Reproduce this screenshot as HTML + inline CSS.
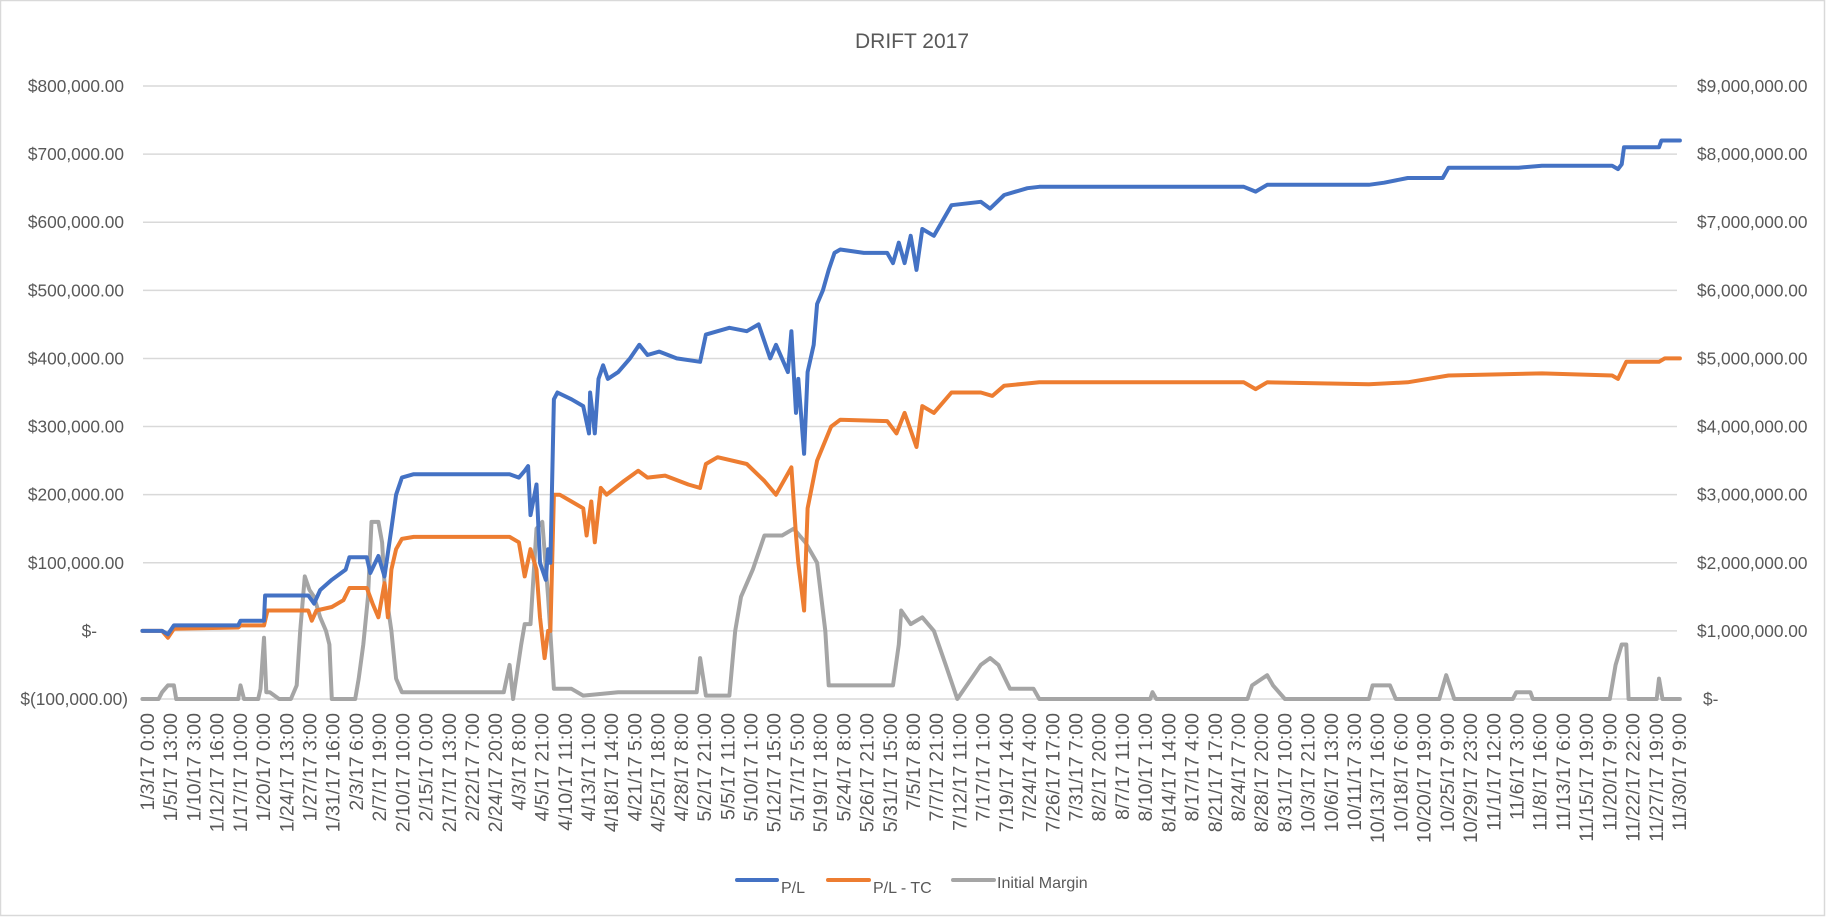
<!DOCTYPE html>
<html><head><meta charset="utf-8"><style>
html,body{margin:0;padding:0;background:#fff;}
svg{display:block;font-family:"Liberation Sans",sans-serif;}
</style></head><body>
<svg id="chart" width="1827" height="917" viewBox="0 0 1827 917" xmlns="http://www.w3.org/2000/svg">
<rect x="0.5" y="0.5" width="1824" height="915" fill="#fff" stroke="#d9d9d9" stroke-width="1.5"/>
<text x="912" y="48" text-anchor="middle" font-size="21" fill="#595959">DRIFT 2017</text>
<g id="grid"></g>
<g id="yleft"></g>
<g id="yright"></g>
<g id="xaxis"></g>
<g id="series"></g>
<g>
<g><line x1="737" y1="880" x2="777" y2="880" stroke="#4472C4" stroke-width="4" stroke-linecap="round"/><text x="781" y="893" font-size="16" fill="#595959">P/L</text></g>
<g><line x1="828" y1="880" x2="869" y2="880" stroke="#ED7D31" stroke-width="4" stroke-linecap="round"/><text x="873" y="893" font-size="16" fill="#595959">P/L - TC</text></g>
<g><line x1="953" y1="880" x2="994" y2="880" stroke="#A5A5A5" stroke-width="4" stroke-linecap="round"/><text x="997" y="888" font-size="16" fill="#595959">Initial Margin</text></g>
</g>
</svg>
<script>
const categories = ["1/3/17 0:00","1/5/17 13:00","1/10/17 3:00","1/12/17 16:00","1/17/17 10:00","1/20/17 0:00","1/24/17 13:00","1/27/17 3:00","1/31/17 16:00","2/3/17 6:00","2/7/17 19:00","2/10/17 10:00","2/15/17 0:00","2/17/17 13:00","2/22/17 7:00","2/24/17 20:00","4/3/17 8:00","4/5/17 21:00","4/10/17 11:00","4/13/17 1:00","4/18/17 14:00","4/21/17 5:00","4/25/17 18:00","4/28/17 8:00","5/2/17 21:00","5/5/17 11:00","5/10/17 1:00","5/12/17 15:00","5/17/17 5:00","5/19/17 18:00","5/24/17 8:00","5/26/17 21:00","5/31/17 15:00","7/5/17 8:00","7/7/17 21:00","7/12/17 11:00","7/17/17 1:00","7/19/17 14:00","7/24/17 4:00","7/26/17 17:00","7/31/17 7:00","8/2/17 20:00","8/7/17 11:00","8/10/17 1:00","8/14/17 14:00","8/17/17 4:00","8/21/17 17:00","8/24/17 7:00","8/28/17 20:00","8/31/17 10:00","10/3/17 21:00","10/6/17 13:00","10/11/17 3:00","10/13/17 16:00","10/18/17 6:00","10/20/17 19:00","10/25/17 9:00","10/29/17 23:00","11/1/17 12:00","11/6/17 3:00","11/8/17 16:00","11/13/17 6:00","11/15/17 19:00","11/20/17 9:00","11/22/17 22:00","11/27/17 19:00","11/30/17 9:00"];
const leftTicks = [-100000,0,100000,200000,300000,400000,500000,600000,700000,800000];
const leftTickLabels = ["$(100,000.00)","$-","$100,000.00","$200,000.00","$300,000.00","$400,000.00","$500,000.00","$600,000.00","$700,000.00","$800,000.00"];
const rightTicks = [0,1,2,3,4,5,6,7,8,9];
const rightTickLabels = ["$-","$1,000,000.00","$2,000,000.00","$3,000,000.00","$4,000,000.00","$5,000,000.00","$6,000,000.00","$7,000,000.00","$8,000,000.00","$9,000,000.00"];
// P/L: [category index position, value in $k]
const plSeries = [[-0.2,0],[0.65,0],[0.9,-5],[1.16,8],[3.93,8],[4.03,15],[5.04,15],[5.09,52],[6.95,52],[7.2,40],[7.46,60],[7.96,75],[8.56,90],[8.72,108],[9.47,108],[9.62,85],[9.97,110],[10.23,80],[10.53,150],[10.73,200],[10.98,225],[11.49,230],[15.62,230],[16.02,225],[16.27,235],[16.42,242],[16.52,170],[16.78,215],[16.93,100],[17.18,75],[17.28,120],[17.38,100],[17.53,340],[17.68,350],[18.29,340],[18.79,330],[19.04,290],[19.09,350],[19.29,290],[19.45,370],[19.65,390],[19.85,370],[20.3,380],[20.81,400],[21.21,420],[21.56,405],[22.07,410],[22.82,400],[23.83,395],[24.08,435],[24.58,440],[25.09,445],[25.84,440],[26.35,450],[26.85,400],[27.1,420],[27.61,380],[27.76,440],[27.96,320],[28.06,370],[28.31,260],[28.46,380],[28.72,420],[28.87,480],[29.12,500],[29.37,530],[29.62,555],[29.87,560],[30.88,555],[31.89,555],[32.14,540],[32.39,570],[32.64,540],[32.9,580],[33.15,530],[33.4,590],[33.9,580],[34.66,625],[35.92,630],[36.32,620],[36.93,640],[37.43,645],[37.93,650],[38.44,652],[47.25,652],[47.76,645],[48.26,655],[52.64,655],[53.3,658],[54.31,665],[55.82,665],[56.07,680],[59.09,680],[60.1,683],[63.12,683],[63.37,678],[63.53,685],[63.63,710],[65.14,710],[65.24,720],[66.04,720]];
// P/L - TC: [category index position, value in $k]
const pltcSeries = [[-0.2,0],[0.65,0],[0.9,-10],[1.16,3],[3.93,5],[4.03,8],[5.04,8],[5.19,30],[6.95,30],[7.1,15],[7.3,30],[7.96,35],[8.46,45],[8.72,63],[9.47,63],[9.72,40],[9.97,20],[10.23,70],[10.38,20],[10.53,90],[10.73,120],[10.98,135],[11.49,138],[15.62,138],[16.02,130],[16.27,80],[16.52,120],[16.78,90],[16.93,20],[17.13,-40],[17.28,0],[17.38,0],[17.53,200],[17.78,200],[18.29,190],[18.79,180],[18.94,140],[19.14,190],[19.29,130],[19.55,210],[19.8,200],[20.55,220],[21.16,235],[21.56,225],[22.32,228],[23.32,215],[23.83,210],[24.08,245],[24.58,255],[25.84,245],[26.6,220],[27.1,200],[27.76,240],[27.96,140],[28.06,100],[28.31,30],[28.46,180],[28.87,250],[29.47,300],[29.87,310],[31.89,308],[32.29,290],[32.64,320],[33.15,270],[33.4,330],[33.9,320],[34.66,350],[35.92,350],[36.42,345],[36.93,360],[38.44,365],[47.25,365],[47.76,355],[48.26,365],[52.64,362],[54.31,365],[56.07,375],[60.1,378],[63.12,375],[63.37,370],[63.73,395],[65.14,395],[65.39,400],[66.04,400]];
// Initial Margin: [category index position, value in $M]
const marginSeries = [[-0.2,0],[0.5,0],[0.65,0.1],[0.9,0.2],[1.16,0.2],[1.26,0],[3.93,0],[4.03,0.2],[4.18,0],[4.79,0],[4.89,0.15],[5.04,0.9],[5.14,0.1],[5.29,0.1],[5.69,0],[6.2,0],[6.45,0.2],[6.6,1.0],[6.8,1.8],[7.0,1.6],[7.2,1.5],[7.46,1.2],[7.71,1.0],[7.86,0.8],[7.96,0],[8.97,0],[9.12,0.3],[9.32,0.8],[9.52,1.5],[9.67,2.6],[9.97,2.6],[10.13,2.3],[10.23,1.7],[10.53,1.0],[10.73,0.3],[10.98,0.1],[11.23,0.1],[15.37,0.1],[15.62,0.5],[15.77,0],[16.12,0.8],[16.27,1.1],[16.52,1.1],[16.78,2.5],[17.03,2.6],[17.28,1.5],[17.53,0.15],[18.29,0.15],[18.79,0.05],[20.3,0.1],[23.68,0.1],[23.83,0.6],[24.08,0.05],[25.09,0.05],[25.34,1.0],[25.59,1.5],[26.1,1.9],[26.6,2.4],[27.36,2.4],[27.86,2.5],[28.36,2.3],[28.87,2.0],[29.22,1.0],[29.37,0.2],[32.14,0.2],[32.39,0.8],[32.49,1.3],[32.9,1.1],[33.4,1.2],[33.9,1.0],[34.41,0.5],[34.91,0],[35.92,0.5],[36.32,0.6],[36.68,0.5],[37.18,0.15],[38.19,0.15],[38.44,0],[43.22,0],[43.32,0.1],[43.48,0],[47.41,0],[47.61,0.2],[48.26,0.35],[48.51,0.2],[49.02,0],[52.64,0],[52.8,0.2],[53.55,0.2],[53.8,0],[55.67,0],[55.97,0.35],[56.32,0],[58.84,0],[58.99,0.1],[59.6,0.1],[59.7,0],[63.02,0],[63.27,0.5],[63.53,0.8],[63.73,0.8],[63.83,0],[65.04,0],[65.14,0.3],[65.29,0],[66.04,0]];

const NS = "http://www.w3.org/2000/svg";
const plotL = 143, plotR = 1677, yTop = 86, yBot = 699;
const xFirst = 147, xLast = 1679;
function xPos(i){ return xFirst + i * (xLast - xFirst) / (categories.length - 1); }
function yLeft(v){ return yBot - (v - (-100000)) / 900000 * (yBot - yTop); }
function yRight(v){ return yBot - v / 9 * (yBot - yTop); }
function mk(tag, attrs, parent){ const e = document.createElementNS(NS, tag); for (const k in attrs) e.setAttribute(k, attrs[k]); parent.appendChild(e); return e; }

const grid = document.getElementById('grid');
const yl = document.getElementById('yleft');
const yr = document.getElementById('yright');
leftTicks.forEach((v, k) => {
  const y = yLeft(v);
  const g = mk('line', {x1: plotL, x2: plotR, y1: y, y2: y, stroke: '#d9d9d9', 'stroke-width': 1.5}, grid);
  
  
  const ax = v === 0 ? 97 : (v < 0 ? 128 : 124);
  const t = mk('text', {x: ax, y: y + 6, 'text-anchor': 'end', 'font-size': 17.3, fill: '#595959'}, yl);
  t.textContent = leftTickLabels[k];
  
  
});
rightTicks.forEach((v, k) => {
  const y = yRight(v);
  const t = mk('text', {x: v === 0 ? 1703 : 1697, y: y + 6, 'font-size': 17.3, fill: '#595959'}, yr);
  t.textContent = rightTickLabels[k];
  
  
});
const xa = document.getElementById('xaxis');
categories.forEach((c, i) => {
  const x = xPos(i);
  const t = mk('text', {transform: `translate(${x + 7},713) rotate(-90)`, 'text-anchor': 'end', 'font-size': 19.5, fill: '#595959'}, xa);
  t.textContent = c;
  
  
});
const ser = document.getElementById('series');
function drawLine(data, yfn, scale, color, name){
  const d = data.map((p, k) => (k ? 'L' : 'M') + xPos(p[0]).toFixed(1) + ',' + yfn(p[1] * scale).toFixed(1)).join(' ');
  const p = mk('path', {d: d, fill: 'none', stroke: color, 'stroke-width': 4, 'stroke-linejoin': 'round', 'stroke-linecap': 'round'}, ser);
  
  
}
drawLine(marginSeries, yRight, 1, '#A5A5A5', 'initial-margin-line');
drawLine(pltcSeries, yLeft, 1000, '#ED7D31', 'pl-tc-line');
drawLine(plSeries, yLeft, 1000, '#4472C4', 'pl-line');
</script>
</body></html>
